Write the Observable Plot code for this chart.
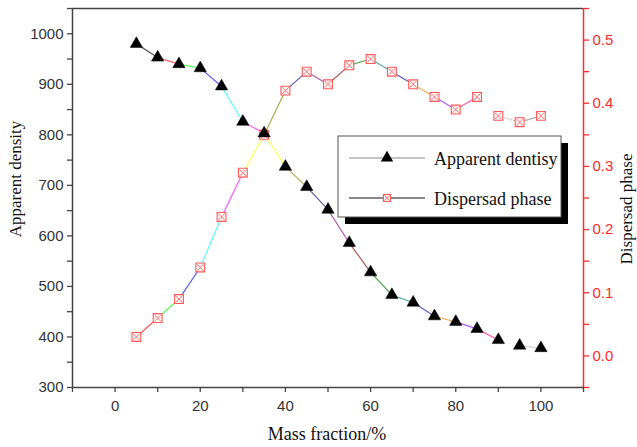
<!DOCTYPE html>
<html>
<head>
<meta charset="utf-8">
<script src="https://cdn.jsdelivr.net/npm/d3@7"></script>
<script src="https://cdn.jsdelivr.net/npm/@observablehq/plot@0.6"></script>
<style>
  html, body { margin: 0; padding: 0; background: #fff; }
  #chart svg { display: block; }
</style>
</head>
<body>
<div id="chart"></div>
<script>
// ---- data ----
const massFraction = [5, 10, 15, 20, 25, 30, 35, 40, 45, 50, 55, 60, 65, 70, 75, 80, 85, 90, 95, 100];
const apparentDensity = [980, 953, 940, 932, 896, 826, 803, 737, 697, 652, 586, 528, 483, 468, 441, 430, 416, 394, 383, 378];
const dispersedPhase = [0.03, 0.06, 0.09, 0.14, 0.22, 0.29, 0.35, 0.42, 0.45, 0.43, 0.46, 0.47, 0.45, 0.43, 0.41, 0.39, 0.41, 0.38, 0.37, 0.38];

const xTicks = [-10, 0, 10, 20, 30, 40, 50, 60, 70, 80, 90, 100, 110];
const xTickLabels = [0, 20, 40, 60, 80, 100];
const leftTicks = [300, 350, 400, 450, 500, 550, 600, 650, 700, 750, 800, 850, 900, 950, 1000, 1050];
const leftTickLabels = [300, 400, 500, 600, 700, 800, 900, 1000];
const rightTicks = [-0.05, 0, 0.05, 0.1, 0.15, 0.2, 0.25, 0.3, 0.35, 0.4, 0.45, 0.5, 0.55];
const rightTickLabels = [0, 0.1, 0.2, 0.3, 0.4, 0.5];

const seriesNames = ["Apparent dentisy", "Dispersad phase"];
const xLabel = "Mass fraction/%";
const leftLabel = "Apparent density";
const rightLabel = "Dispersad phase";

// Origin-style color increment for segments
const originColors = ["#000000", "#FF0000", "#00FF00", "#0000FF", "#00FFFF", "#FF00FF", "#FFFF00", "#808000",
  "#000080", "#800080", "#800000", "#008000", "#008080", "#0000A0", "#FF8000", "#8000FF", "#FF0080",
  "#FFFFFF", "#C0C0C0", "#808080"];

// ---- scales for the secondary axis ----
const leftDomain = [300, 1050];
const rightDomain = [-0.05, 0.55];
const toLeft = d3.scaleLinear().domain(rightDomain).range(leftDomain);

const density = massFraction.map((x, i) => ({x, y: apparentDensity[i]}));
const dispersed = massFraction.map((x, i) => ({x, y: toLeft(dispersedPhase[i]), v: dispersedPhase[i]}));

const densitySegs = d3.pairs(density).map(([a, b], i) => ({x1: a.x, y1: a.y, x2: b.x, y2: b.y, c: originColors[i % originColors.length]}));
const dispersedSegs = d3.pairs(dispersed).map(([a, b], i) => ({x1: a.x, y1: a.y, x2: b.x, y2: b.y, c: originColors[(i + 1) % originColors.length]}));

const red = "#ff2b2b";
const axisGrey = "#444";
const markerRed = "#ff5a5a";

const chart = Plot.plot({
  width: 637,
  height: 447,
  marginLeft: 72,
  marginRight: 54,
  marginTop: 8,
  marginBottom: 60,
  x: {domain: [-10, 110]},
  y: {domain: leftDomain},
  style: {fontFamily: "'Liberation Sans', Arial, sans-serif", fontSize: "15px", color: "#333", background: "#fff"},
  marks: [
    // frame
    Plot.ruleY([leftDomain[1]], {stroke: axisGrey, strokeWidth: 1.5}),
    Plot.ruleY([leftDomain[0]], {stroke: axisGrey, strokeWidth: 1.5}),
    Plot.ruleX([-10], {stroke: axisGrey, strokeWidth: 1.5}),
    // axes
    Plot.axisX({ticks: xTicks, tickSize: 5, tickPadding: 8, stroke: axisGrey, strokeWidth: 1.3,
      tickFormat: d => xTickLabels.includes(d) ? String(d) : "", label: null, fill: "#333"}),
    Plot.axisY({ticks: leftTicks, tickSize: 5, tickPadding: 4, stroke: axisGrey, strokeWidth: 1.3,
      tickFormat: d => leftTickLabels.includes(d) ? String(d) : "", label: null, fill: "#333"}),
    Plot.axisY({anchor: "right", ticks: rightTicks.map(v => toLeft(v)), tickSize: 5, tickPadding: 4,
      stroke: red, strokeWidth: 1.3, fill: red, label: null,
      tickFormat: d => {
        const v = Math.round(toLeft.invert(d) * 100) / 100;
        return rightTickLabels.some(t => Math.abs(t - v) < 1e-9) ? v.toFixed(1) : "";
      }}),
    Plot.ruleX([110], {stroke: red, strokeWidth: 1.5}),
    // line segments
    Plot.link(densitySegs, {x1: "x1", y1: "y1", x2: "x2", y2: "y2", stroke: "c", strokeWidth: 1.2, strokeOpacity: 0.65}),
    Plot.link(dispersedSegs, {x1: "x1", y1: "y1", x2: "x2", y2: "y2", stroke: "c", strokeWidth: 1.2, strokeOpacity: 0.65}),
    // markers
    Plot.dot(dispersed, {x: "x", y: "y", symbol: "square", r: 5, fill: "#fff4f4", stroke: markerRed, strokeWidth: 1.1}),
    Plot.dot(dispersed, {x: "x", y: "y", symbol: "times", r: 3.2, stroke: markerRed, strokeWidth: 0.8}),
    Plot.dot(density, {x: "x", y: "y", symbol: "triangle", r: 4.6, fill: "#000", stroke: "#000", strokeWidth: 0.5})
  ]
});

document.getElementById("chart").appendChild(chart);

// ---- labels and legend ----
const svg = d3.select(chart);
const serif = "'Liberation Serif', 'Times New Roman', serif";

svg.append("text").text(xLabel)
  .attr("x", 327).attr("y", 440).attr("text-anchor", "middle")
  .attr("font-family", serif).attr("font-size", 18).attr("fill", "#111");
svg.append("text").text(leftLabel)
  .attr("transform", "translate(21,179) rotate(-90)").attr("text-anchor", "middle")
  .attr("font-family", serif).attr("font-size", 17).attr("fill", "#111");
svg.append("text").text(rightLabel)
  .attr("transform", "translate(632,209) rotate(-90)").attr("text-anchor", "middle")
  .attr("font-family", serif).attr("font-size", 17).attr("fill", "#111");

const lg = svg.append("g");
lg.append("rect").attr("x", 345).attr("y", 143).attr("width", 223).attr("height", 81).attr("fill", "#000");
lg.append("rect").attr("x", 338).attr("y", 136).attr("width", 223).attr("height", 81)
  .attr("fill", "#fff").attr("stroke", "#555").attr("stroke-width", 1);
const entries = [
  {name: seriesNames[0], y: 158, line: "#8a8a8a"},
  {name: seriesNames[1], y: 198, line: "#111"}
];
entries.forEach((e, i) => {
  lg.append("line").attr("x1", 349).attr("x2", 425).attr("y1", e.y).attr("y2", e.y)
    .attr("stroke", e.line).attr("stroke-width", 1);
  if (i === 0) {
    lg.append("path").attr("d", d3.symbol(d3.symbolTriangle, Math.PI * 4.6 * 4.6)())
      .attr("transform", `translate(387,${e.y})`).attr("fill", "#000");
  } else {
    lg.append("path").attr("d", d3.symbol(d3.symbolSquare, Math.PI * 4 * 4)())
      .attr("transform", `translate(387,${e.y})`).attr("fill", "#fff4f4").attr("stroke", markerRed).attr("stroke-width", 1.1);
    lg.append("path").attr("d", d3.symbol(d3.symbolTimes, Math.PI * 2.6 * 2.6)())
      .attr("transform", `translate(387,${e.y})`).attr("fill", "none").attr("stroke", markerRed).attr("stroke-width", 0.8);
  }
  lg.append("text").text(e.name).attr("x", 434).attr("y", e.y + 7).attr("text-anchor", "start")
    .attr("font-family", serif).attr("font-size", 18).attr("fill", "#111");
});
</script>
</body>
</html>
